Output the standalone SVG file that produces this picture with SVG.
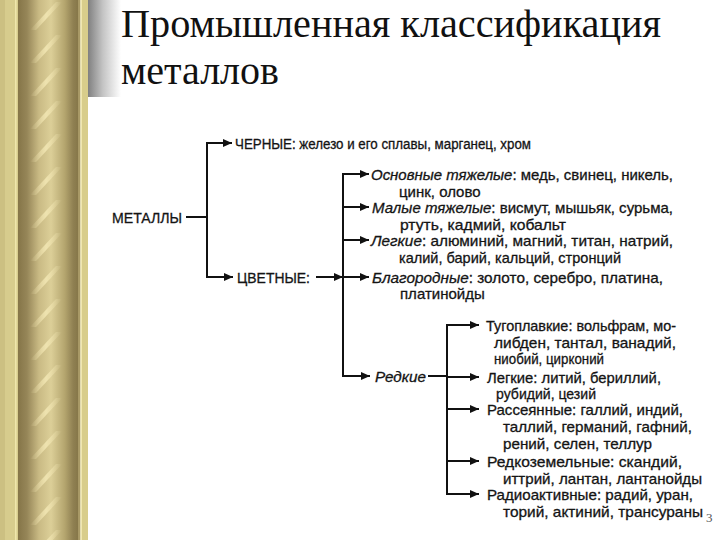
<svg xmlns="http://www.w3.org/2000/svg" width="720" height="540" viewBox="0 0 720 540">
<defs>
<linearGradient id="rod" x1="0" y1="0" x2="1" y2="0">
<stop offset="0" stop-color="#857548"/>
<stop offset="0.15" stop-color="#968658"/>
<stop offset="0.35" stop-color="#c9ba84"/>
<stop offset="0.55" stop-color="#dccf98"/>
<stop offset="0.78" stop-color="#b4a56e"/>
<stop offset="0.92" stop-color="#8f8052"/>
<stop offset="1" stop-color="#867749"/>
</linearGradient>
<linearGradient id="streakg" x1="0" y1="0" x2="1" y2="0">
<stop offset="0" stop-color="#f5e9b4" stop-opacity="0"/>
<stop offset="0.5" stop-color="#f7ecba" stop-opacity="0.75"/>
<stop offset="1" stop-color="#f5e9b4" stop-opacity="0"/>
</linearGradient>
<pattern id="twist" x="18" y="0" width="60" height="33" patternUnits="userSpaceOnUse">
<polygon points="12,30 18,30 44,2 38,2" fill="url(#streakg)"/>
</pattern>
<linearGradient id="shade" x1="0" y1="0" x2="1" y2="0">
<stop offset="0" stop-color="#808080"/>
<stop offset="0.45" stop-color="#c4c4c4"/>
<stop offset="1" stop-color="#ffffff"/>
</linearGradient>
<marker id="ah" markerUnits="userSpaceOnUse" markerWidth="10" markerHeight="9" refX="9" refY="4" orient="auto">
<path d="M0,0 L9,4 L0,8 z" fill="#111"/>
</marker>
<style>
.t{font-family:"Liberation Sans",Arial,sans-serif;font-size:15px;fill:#141414;stroke:#141414;stroke-width:0.3px;}
.s{font-size:14px;}
.i{font-style:italic;}
.c{fill:none;stroke:#111;stroke-width:2;}
.a{fill:none;stroke:#111;stroke-width:2;marker-end:url(#ah);}
.title{font-family:"Liberation Serif","Times New Roman",serif;font-size:40px;fill:#111;}
</style>
</defs>
<rect x="0" y="0" width="720" height="540" fill="#ffffff"/>
<g id="border">
<rect x="0" y="0" width="18" height="540" fill="#d7cc8d"/>
<rect x="0" y="0" width="5" height="540" fill="#ccc082"/>
<rect x="15" y="0" width="1.5" height="540" fill="#efe6ab"/>
<rect x="18" y="0" width="60" height="540" fill="url(#rod)"/>
<rect x="18" y="0" width="60" height="540" fill="url(#twist)"/>
<rect x="78" y="0" width="2.5" height="540" fill="#a89966"/>
<rect x="80.5" y="0" width="1.5" height="540" fill="#f0e7b0"/>
<rect x="82" y="0" width="6" height="540" fill="#d8cd8b"/>
</g>
<g id="title-area">
<rect x="88" y="0" width="33" height="97" fill="url(#shade)"/>
<text class="title" x="121" y="37" textLength="540" lengthAdjust="spacingAndGlyphs">Промышленная классификация</text>
<text class="title" x="121" y="84">металлов</text>
</g>
<g id="connectors">
<path class="c" d="M186,217 H207"/>
<path class="c" d="M207,142 V278"/>
<path class="a" d="M206,143 H232"/>
<path class="a" d="M206,277 H233"/>
<path class="a" d="M316,277 H343"/>
<path class="c" d="M343,173 V377"/>
<path class="a" d="M342,174 H369"/>
<path class="a" d="M343,207 H369"/>
<path class="a" d="M343,240 H369"/>
<path class="a" d="M343,277 H369"/>
<path class="a" d="M342,376 H370"/>
<path class="c" stroke-width="1.5" d="M428,376 H447"/>
<path class="c" d="M447,324 V495"/>
<path class="a" d="M446,325 H479"/>
<path class="a" d="M447,377 H479"/>
<path class="a" d="M447,409 H479"/>
<path class="a" d="M447,461 H479"/>
<path class="a" d="M446,494 H479"/>
</g>
<g id="metally"><text class="t" x="112" y="223" textLength="70" lengthAdjust="spacingAndGlyphs">МЕТАЛЛЫ</text></g>
<g id="chernye"><text class="t s" x="235" y="149" textLength="296" lengthAdjust="spacingAndGlyphs">ЧЕРНЫЕ: железо и его сплавы, марганец, хром</text></g>
<g id="tsvetnye"><text class="t" x="237" y="283" textLength="73" lengthAdjust="spacingAndGlyphs">ЦВЕТНЫЕ:</text></g>
<g id="osnovnye">
<text class="t" x="371" y="180" textLength="302" lengthAdjust="spacingAndGlyphs"><tspan class="i">Основные тяжелые</tspan>: медь, свинец, никель,</text>
<text class="t" x="399" y="197">цинк, олово</text>
</g>
<g id="malye">
<text class="t" x="372" y="213" textLength="301" lengthAdjust="spacingAndGlyphs"><tspan class="i">Малые тяжелые</tspan>: висмут, мышьяк, сурьма,</text>
<text class="t" x="400" y="230" textLength="166" lengthAdjust="spacingAndGlyphs">ртуть, кадмий, кобальт</text>
</g>
<g id="legkie">
<text class="t" x="371" y="246" textLength="302" lengthAdjust="spacingAndGlyphs"><tspan class="i">Легкие</tspan>: алюминий, магний, титан, натрий,</text>
<text class="t" x="399" y="263" textLength="222" lengthAdjust="spacingAndGlyphs">калий, барий, кальций, стронций</text>
</g>
<g id="blagorodnye">
<text class="t" x="372" y="283" textLength="291" lengthAdjust="spacingAndGlyphs"><tspan class="i">Благородные</tspan>: золото, серебро, платина,</text>
<text class="t" x="400" y="299">платинойды</text>
</g>
<g id="redkie"><text class="t i" x="375" y="382" textLength="51" lengthAdjust="spacingAndGlyphs">Редкие</text></g>
<g id="tugoplavkie">
<text class="t" x="486" y="331" textLength="190" lengthAdjust="spacingAndGlyphs">Тугоплавкие: вольфрам, мо-</text>
<text class="t" x="494" y="348" textLength="182" lengthAdjust="spacingAndGlyphs">либден, тантал, ванадий,</text>
<text class="t" x="494" y="364" textLength="110" lengthAdjust="spacingAndGlyphs">ниобий, цирконий</text>
</g>
<g id="legkie-redkie">
<text class="t" x="487" y="383" textLength="174" lengthAdjust="spacingAndGlyphs">Легкие: литий, бериллий,</text>
<text class="t" x="496" y="399" textLength="100" lengthAdjust="spacingAndGlyphs">рубидий, цезий</text>
</g>
<g id="rasseyannye">
<text class="t" x="487" y="415" textLength="196" lengthAdjust="spacingAndGlyphs">Рассеянные: галлий, индий,</text>
<text class="t" x="503" y="432" textLength="189" lengthAdjust="spacingAndGlyphs">таллий, германий, гафний,</text>
<text class="t" x="503" y="449" textLength="149" lengthAdjust="spacingAndGlyphs">рений, селен, теллур</text>
</g>
<g id="redkozemelnye">
<text class="t" x="487" y="467" textLength="195" lengthAdjust="spacingAndGlyphs">Редкоземельные: скандий,</text>
<text class="t" x="503" y="484" textLength="199" lengthAdjust="spacingAndGlyphs">иттрий, лантан, лантанойды</text>
</g>
<g id="radioaktivnye">
<text class="t" x="487" y="500" textLength="206" lengthAdjust="spacingAndGlyphs">Радиоактивные: радий, уран,</text>
<text class="t" x="503" y="517" textLength="200" lengthAdjust="spacingAndGlyphs">торий, актиний, трансураны</text>
</g>
<text x="706" y="522" font-family="Liberation Serif, serif" font-size="13" fill="#555">3</text>
</svg>
